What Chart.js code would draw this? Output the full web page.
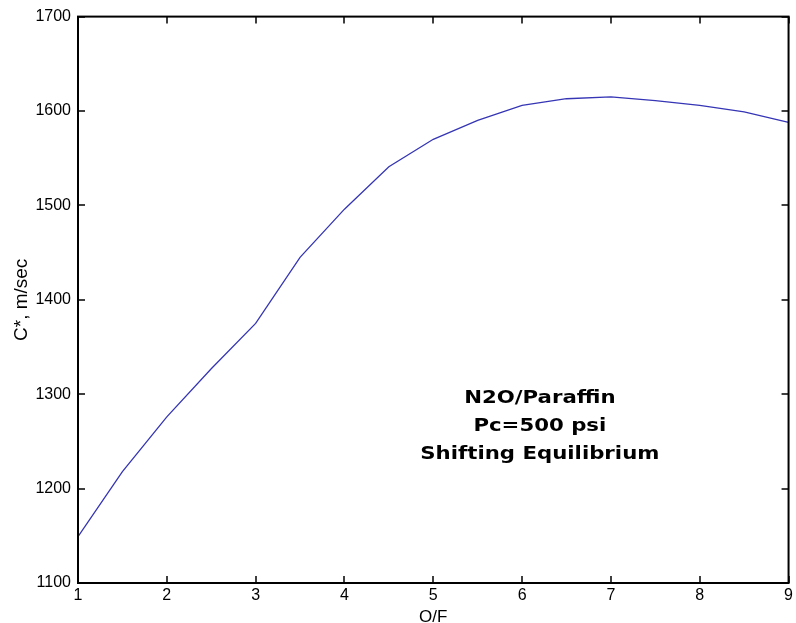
<!DOCTYPE html>
<html>
<head>
<meta charset="utf-8">
<script src="https://cdn.jsdelivr.net/npm/chart.js@4/dist/chart.umd.min.js"></script>
<style>
  html, body { margin: 0; padding: 0; background: #fff; }
  #wrap { width: 796px; height: 623px; }
</style>
</head>
<body>
<div id="wrap"><canvas id="chart" width="796" height="623"></canvas></div>
<script>
// O/F ratio vs characteristic velocity
const ofRatio = [1, 1.5, 2, 2.5, 3, 3.5, 4, 4.5, 5, 5.5, 6, 6.5, 7, 7.5, 8, 8.5, 9];
const cStar = [1149, 1218, 1276, 1327, 1375, 1445, 1496, 1541, 1570, 1590, 1606, 1613, 1615, 1611, 1606, 1599, 1588];
const xTicks = [1, 2, 3, 4, 5, 6, 7, 8, 9];
const yTicks = [1100, 1200, 1300, 1400, 1500, 1600, 1700];
const noteLines = ['N2O/Paraffin', 'Pc=500 psi', 'Shifting Equilibrium'];
const noteX = 6.2;
const noteY = [1295, 1266, 1236];

const tickFont = { family: '"Liberation Sans", Arial, sans-serif', size: 16 };

// MATLAB-style box with inward ticks plus the text note
const frame = {
  id: 'frame',
  afterDraw(chart) {
    const { ctx, chartArea: a, scales: { x, y } } = chart;
    ctx.save();
    ctx.strokeStyle = '#000';
    ctx.lineWidth = 2;
    ctx.strokeRect(a.left, a.top, a.right - a.left, a.bottom - a.top);
    ctx.lineWidth = 1.5;
    const len = 7;
    ctx.beginPath();
    xTicks.forEach(v => {
      const px = Math.round(x.getPixelForValue(v));
      ctx.moveTo(px, a.bottom); ctx.lineTo(px, a.bottom - len);
      ctx.moveTo(px, a.top); ctx.lineTo(px, a.top + len);
    });
    yTicks.forEach(v => {
      const py = Math.round(y.getPixelForValue(v));
      ctx.moveTo(a.left, py); ctx.lineTo(a.left + len, py);
      ctx.moveTo(a.right, py); ctx.lineTo(a.right - len, py);
    });
    ctx.stroke();

    ctx.fillStyle = '#000';
    ctx.font = 'bold 17px "DejaVu Sans", sans-serif';
    ctx.textAlign = 'center';
    ctx.textBaseline = 'middle';
    const cx = x.getPixelForValue(noteX);
    noteLines.forEach((t, i) => {
      ctx.save();
      ctx.translate(cx, y.getPixelForValue(noteY[i]));
      ctx.scale(1.25, 1);
      ctx.fillText(t, 0, 0);
      ctx.restore();
    });
    ctx.restore();
  }
};

new Chart(document.getElementById('chart'), {
  type: 'line',
  data: {
    datasets: [{
      data: ofRatio.map((v, i) => ({ x: v, y: cStar[i] })),
      borderColor: '#3535b5',
      borderWidth: 1.3,
      tension: 0,
      pointRadius: 0,
      fill: false,
    }],
  },
  options: {
    responsive: false,
    animation: false,
    layout: { padding: { top: 16, right: 1, left: 0, bottom: 0 } },
    plugins: { legend: { display: false }, tooltip: { enabled: false } },
    scales: {
      x: {
        type: 'linear',
        min: 1, max: 9,
        afterFit(s) { s.height = 40; },
        afterBuildTicks(s) { s.ticks = xTicks.map(v => ({ value: v })); },
        grid: { display: false, drawTicks: false },
        border: { display: false },
        ticks: { color: '#000', font: tickFont, padding: 3, maxRotation: 0, callback: v => String(v) },
        title: { display: true, text: 'O/F', color: '#000', font: { ...tickFont, size: 17, lineHeight: 1 }, padding: { top: 0, bottom: -3 } },
      },
      y: {
        min: 1100, max: 1700,
        afterFit(s) { s.width = 78; },
        afterBuildTicks(s) { s.ticks = yTicks.map(v => ({ value: v })); },
        grid: { display: false, drawTicks: false },
        border: { display: false },
        ticks: { color: '#000', font: tickFont, padding: 7, callback: v => String(v) },
        title: { display: true, text: 'C*, m/sec', color: '#000', font: { ...tickFont, size: 19, lineHeight: 1 }, padding: { top: 12 } },
      },
    },
  },
  plugins: [frame],
});
</script>
</body>
</html>
